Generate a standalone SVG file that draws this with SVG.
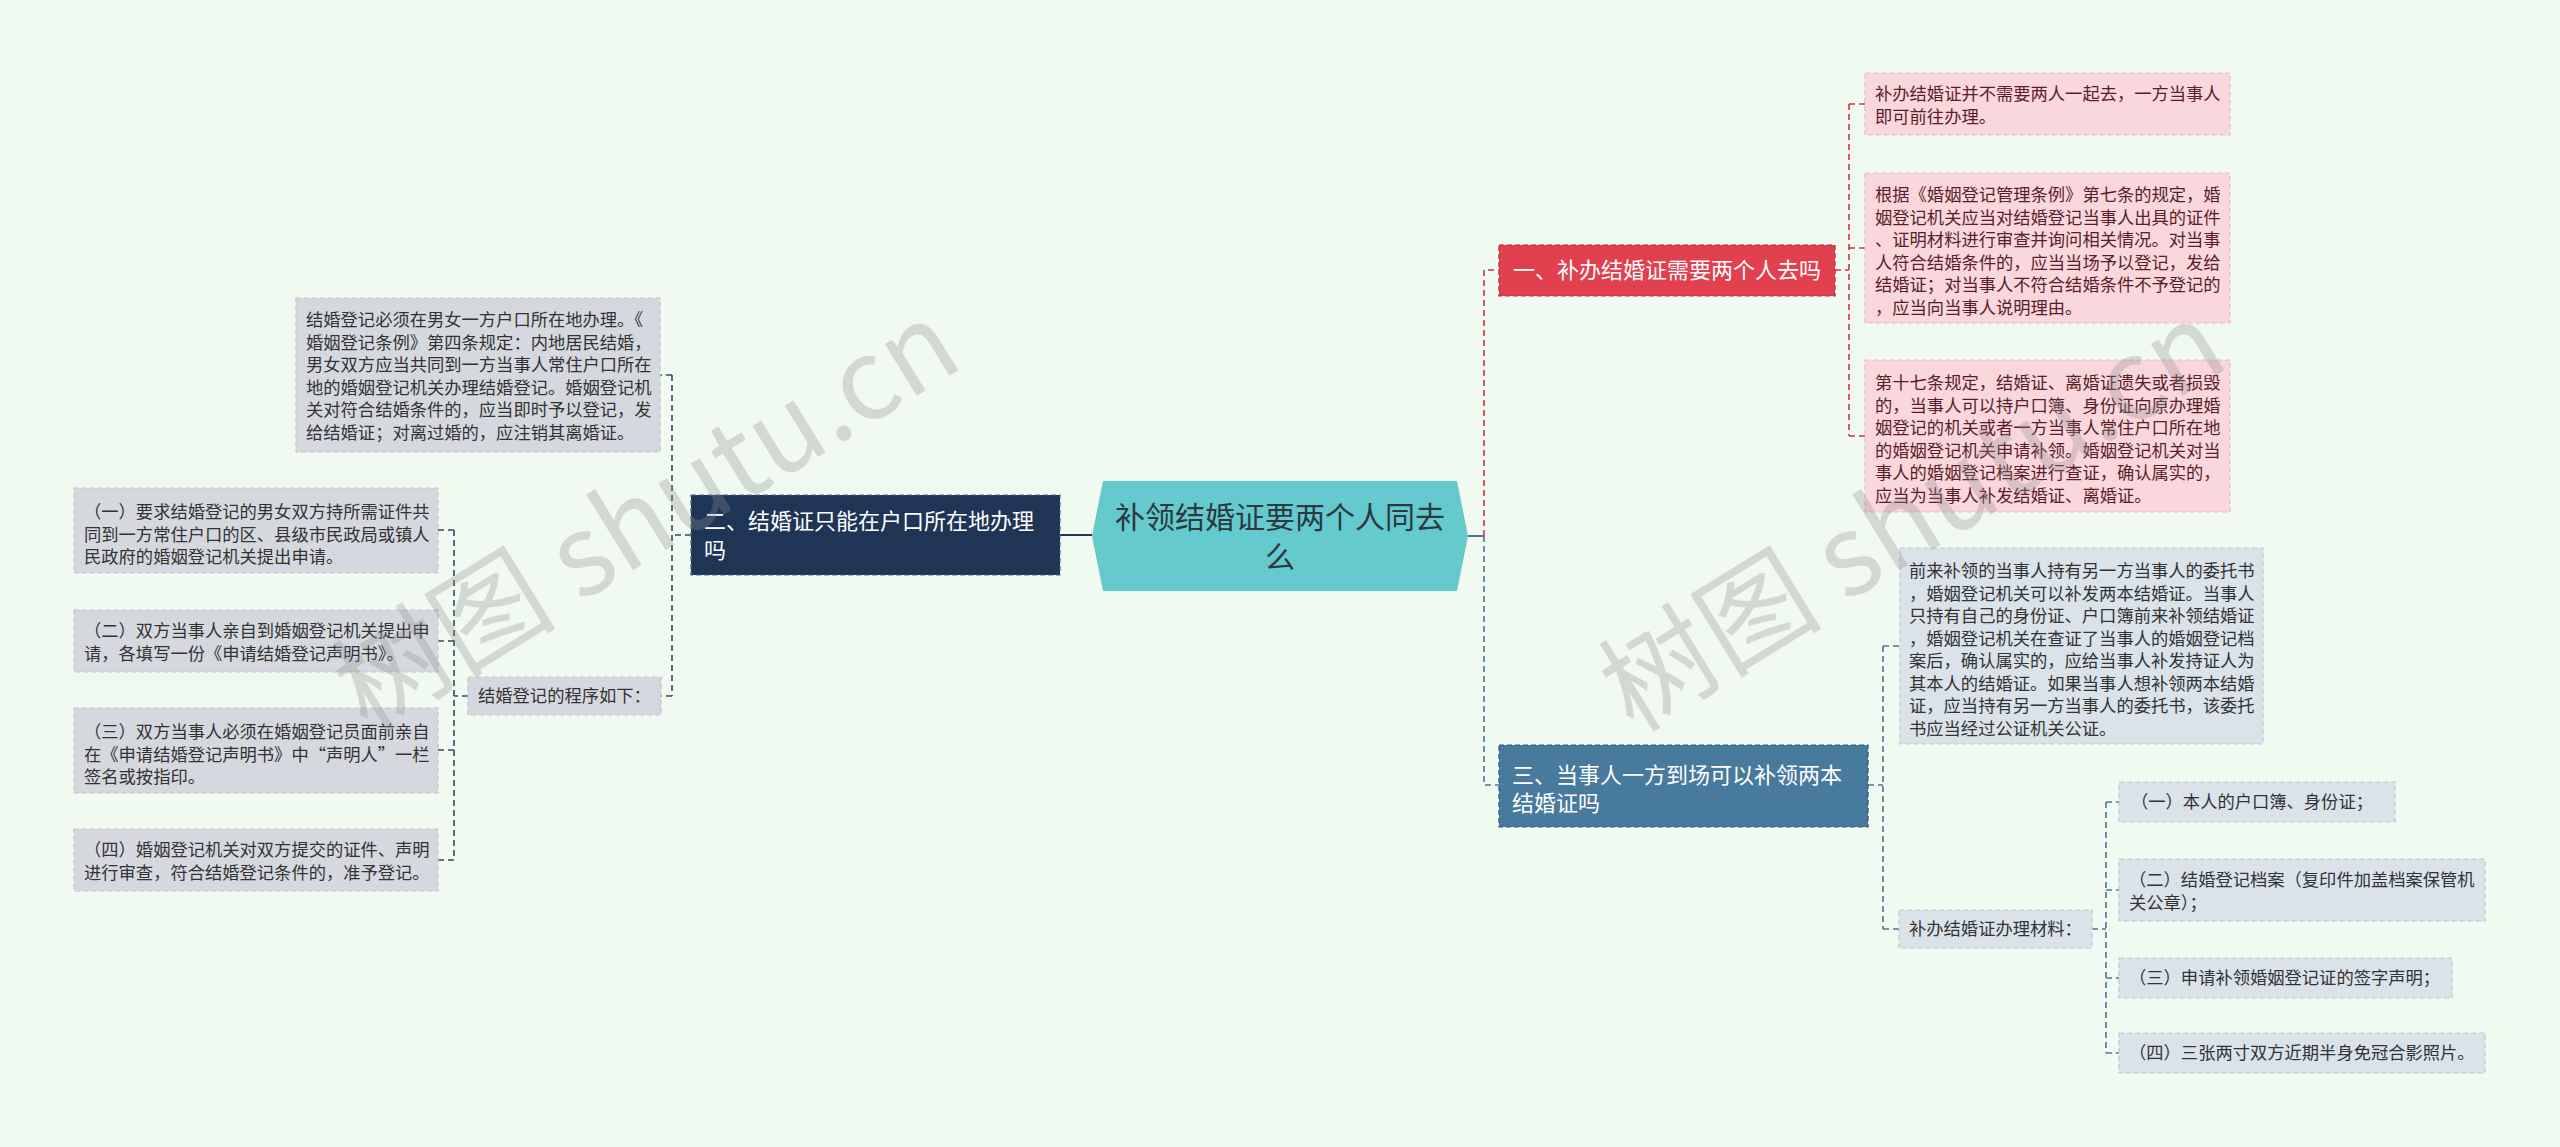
<svg xmlns="http://www.w3.org/2000/svg" width="2560" height="1147" viewBox="0 0 2560 1147">
<style>
text{font-family:'Noto Sans CJK SC','Noto Sans',sans-serif}
.lf{font-size:17.3px;fill:#333}
.rl{font-size:17.3px;fill:#5C1D2B}
.mn{font-size:22px;fill:#fff}
.br{fill:#F9D7DC;stroke:#EDB7C1;stroke-width:1.2;stroke-dasharray:5 3}
.bg{fill:#D5D9DF;stroke:#BEC5CE;stroke-width:1.2;stroke-dasharray:5 3}
.bb{fill:#DAE2EA;stroke:#BDC9D5;stroke-width:1.2;stroke-dasharray:5 3}
.c{fill:none;stroke-width:1.6;stroke-dasharray:6 4}
.cr{stroke:#CF3446}
.cb{stroke:#47769A}
.cn{stroke:#34496A}
.wm{font-size:112px;fill:#8E8E8E;opacity:.3;font-family:'Noto Sans CJK SC','Liberation Serif',serif}
</style>
<rect width="2560" height="1147" fill="#F1FAF0"/>

<g id="connectors">
  <line x1="1060" y1="535" x2="1092" y2="535" stroke="#1E3555" stroke-width="2"/>
  <line x1="1468" y1="536" x2="1484" y2="536" stroke="#47769A" stroke-width="2"/>
  <path class="c cr" d="M1484 536 V270 H1499"/>
  <path class="c cb" d="M1484 536 V785 H1499"/>
  <path class="c cr" d="M1835 270 H1849 M1849 104 V436 M1849 104 H1865 M1849 248 H1865 M1849 436 H1865"/>
  <path class="c cb" d="M1868 785 H1883 M1883 646 V929 M1883 646 H1900 M1883 929 H1899"/>
  <path class="c cb" d="M2092 929 H2106 M2106 802 V1053 M2106 802 H2119 M2106 890 H2119 M2106 978 H2119 M2106 1053 H2119"/>
  <path class="c cn" d="M691 535 H672 M672 375 V696 M672 375 H660 M672 696 H661"/>
  <path class="c cn" d="M468 696 H454 M454 530 V860 M454 530 H438 M454 641 H438 M454 750 H438 M454 860 H438"/>
</g>

<g id="center">
  <polygon points="1092,536 1103,481 1457,481 1468,536 1457,591 1103,591" fill="#64CACD"/>
  <text x="1280" y="528" font-size="30" fill="#2B3A3F" text-anchor="middle">补领结婚证要两个人同去</text>
  <text x="1280" y="568" font-size="30" fill="#2B3A3F" text-anchor="middle">么</text>
</g>

<g id="n1">
  <rect x="1499" y="245" width="336" height="51" fill="#E2404F" stroke="#B82536" stroke-width="1.2" stroke-dasharray="5 3"/>
  <text class="mn" x="1667" y="278" text-anchor="middle">一、补办结婚证需要两个人去吗</text>
</g>
<g id="n1a">
  <rect class="br" x="1865" y="73" width="365" height="62"/>
  <text class="rl" x="1875" y="100">补办结婚证并不需要两人一起去，一方当事人</text>
  <text class="rl" x="1875" y="122.5">即可前往办理。</text>
</g>
<g id="n1b">
  <rect class="br" x="1865" y="173" width="365" height="150"/>
  <text class="rl" x="1875" y="201">根据《婚姻登记管理条例》第七条的规定，婚</text>
  <text class="rl" x="1875" y="223.5">姻登记机关应当对结婚登记当事人出具的证件</text>
  <text class="rl" x="1875" y="246">、证明材料进行审查并询问相关情况。对当事</text>
  <text class="rl" x="1875" y="268.5">人符合结婚条件的，应当当场予以登记，发给</text>
  <text class="rl" x="1875" y="291">结婚证；对当事人不符合结婚条件不予登记的</text>
  <text class="rl" x="1875" y="313.5">，应当向当事人说明理由。</text>
</g>
<g id="n1c">
  <rect class="br" x="1865" y="360" width="365" height="152"/>
  <text class="rl" x="1875" y="389">第十七条规定，结婚证、离婚证遗失或者损毁</text>
  <text class="rl" x="1875" y="411.5">的，当事人可以持户口簿、身份证向原办理婚</text>
  <text class="rl" x="1875" y="434">姻登记的机关或者一方当事人常住户口所在地</text>
  <text class="rl" x="1875" y="456.5">的婚姻登记机关申请补领。婚姻登记机关对当</text>
  <text class="rl" x="1875" y="479">事人的婚姻登记档案进行查证，确认属实的，</text>
  <text class="rl" x="1875" y="501.5">应当为当事人补发结婚证、离婚证。</text>
</g>

<g id="n3">
  <rect x="1499" y="745" width="369" height="82" fill="#477A9C" stroke="#2C5878" stroke-width="1.2" stroke-dasharray="5 3"/>
  <text class="mn" x="1512" y="783">三、当事人一方到场可以补领两本</text>
  <text class="mn" x="1512" y="811">结婚证吗</text>
</g>
<g id="n3a">
  <rect class="bb" x="1900" y="548" width="363" height="196"/>
  <text class="lf" x="1909" y="577">前来补领的当事人持有另一方当事人的委托书</text>
  <text class="lf" x="1909" y="599.5">，婚姻登记机关可以补发两本结婚证。当事人</text>
  <text class="lf" x="1909" y="622">只持有自己的身份证、户口簿前来补领结婚证</text>
  <text class="lf" x="1909" y="644.5">，婚姻登记机关在查证了当事人的婚姻登记档</text>
  <text class="lf" x="1909" y="667">案后，确认属实的，应给当事人补发持证人为</text>
  <text class="lf" x="1909" y="689.5">其本人的结婚证。如果当事人想补领两本结婚</text>
  <text class="lf" x="1909" y="712">证，应当持有另一方当事人的委托书，该委托</text>
  <text class="lf" x="1909" y="734.5">书应当经过公证机关公证。</text>
</g>
<g id="n3b">
  <rect class="bb" x="1899" y="910" width="193" height="38"/>
  <text class="lf" x="1909" y="935">补办结婚证办理材料：</text>
</g>
<g id="n3b1">
  <rect class="bb" x="2119" y="782" width="276" height="40"/>
  <text class="lf" x="2131" y="808">（一）本人的户口簿、身份证；</text>
</g>
<g id="n3b2">
  <rect class="bb" x="2119" y="859" width="366" height="62"/>
  <text class="lf" x="2129" y="886">（二）结婚登记档案（复印件加盖档案保管机</text>
  <text class="lf" x="2129" y="908.5">关公章）；</text>
</g>
<g id="n3b3">
  <rect class="bb" x="2119" y="958" width="333" height="40"/>
  <text class="lf" x="2129" y="984">（三）申请补领婚姻登记证的签字声明；</text>
</g>
<g id="n3b4">
  <rect class="bb" x="2119" y="1033" width="366" height="40"/>
  <text class="lf" x="2129" y="1059">（四）三张两寸双方近期半身免冠合影照片。</text>
</g>

<g id="n2">
  <rect x="691" y="495" width="369" height="80" fill="#1E3555" stroke="#4D6585" stroke-width="1.2" stroke-dasharray="5 3"/>
  <text class="mn" x="704" y="529">二、结婚证只能在户口所在地办理</text>
  <text class="mn" x="704" y="558">吗</text>
</g>
<g id="n2a">
  <rect class="bg" x="296" y="298" width="364" height="154"/>
  <text class="lf" x="306" y="326">结婚登记必须在男女一方户口所在地办理。《</text>
  <text class="lf" x="306" y="348.5">婚姻登记条例》第四条规定：内地居民结婚，</text>
  <text class="lf" x="306" y="371">男女双方应当共同到一方当事人常住户口所在</text>
  <text class="lf" x="306" y="393.5">地的婚姻登记机关办理结婚登记。婚姻登记机</text>
  <text class="lf" x="306" y="416">关对符合结婚条件的，应当即时予以登记，发</text>
  <text class="lf" x="306" y="438.5">给结婚证；对离过婚的，应注销其离婚证。</text>
</g>
<g id="n2b">
  <rect class="bg" x="468" y="677" width="193" height="38"/>
  <text class="lf" x="478" y="702">结婚登记的程序如下：</text>
</g>
<g id="n2b1">
  <rect class="bg" x="74" y="488" width="364" height="85"/>
  <text class="lf" x="84" y="518">（一）要求结婚登记的男女双方持所需证件共</text>
  <text class="lf" x="84" y="540.5">同到一方常住户口的区、县级市民政局或镇人</text>
  <text class="lf" x="84" y="563">民政府的婚姻登记机关提出申请。</text>
</g>
<g id="n2b2">
  <rect class="bg" x="74" y="610" width="364" height="62"/>
  <text class="lf" x="84" y="637">（二）双方当事人亲自到婚姻登记机关提出申</text>
  <text class="lf" x="84" y="659.5">请，各填写一份《申请结婚登记声明书》。</text>
</g>
<g id="n2b3">
  <rect class="bg" x="74" y="708" width="364" height="85"/>
  <text class="lf" x="84" y="738">（三）双方当事人必须在婚姻登记员面前亲自</text>
  <text class="lf" x="84" y="760.5">在《申请结婚登记声明书》中“声明人”一栏</text>
  <text class="lf" x="84" y="783">签名或按指印。</text>
</g>
<g id="n2b4">
  <rect class="bg" x="74" y="829" width="364" height="62"/>
  <text class="lf" x="84" y="856">（四）婚姻登记机关对双方提交的证件、声明</text>
  <text class="lf" x="84" y="878.5">进行审查，符合结婚登记条件的，准予登记。</text>
</g>

<text class="wm" x="648" y="555" text-anchor="middle" transform="rotate(-31.6 648 519)">树图 shutu.cn</text>
<text class="wm" x="1914" y="555" text-anchor="middle" transform="rotate(-31.6 1914 519)">树图 shutu.cn</text>
</svg>
